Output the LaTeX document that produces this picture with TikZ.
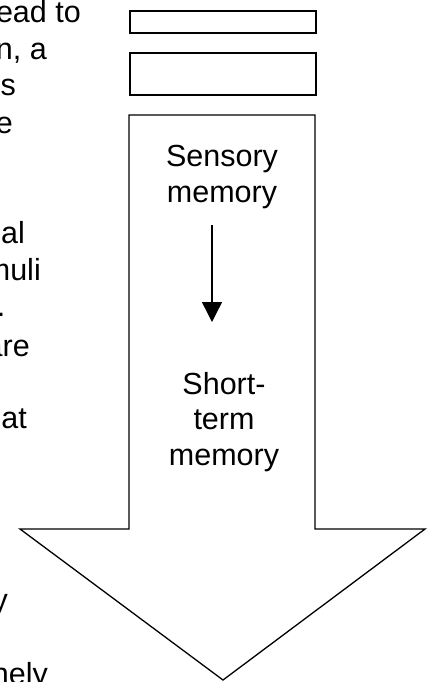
\documentclass[tikz,border=0pt]{standalone}
\usepackage{fontspec}
\setmainfont{Liberation Sans}
\usetikzlibrary{arrows.meta}
\begin{document}
\begin{tikzpicture}[x=1pt,y=-1pt,
  txt/.style={font=\fontsize{30.5}{35.5}\selectfont, inner sep=0pt, align=center},
  frag/.style={font=\fontsize{30.5}{36.6}\selectfont, inner sep=0pt, anchor=base east},
  bar/.style={draw=black, line width=1.8pt, fill=white},
  bigarrow/.style={draw=black, line width=1.3pt, line join=miter, fill=white},
  link/.style={draw=black, line width=1.4pt, -{Triangle[width=20pt,length=20pt]}}]
\useasboundingbox (0,0) rectangle (431,682);
\clip (0,0) rectangle (431,682);
% cut-off paragraph on the left
\node[frag] (l1) at (81,23) {ead to};
\node[frag] (l2) at (47,60) {n, a};
\node[frag] (l3) at (16,96) {s};
\node[frag] (l4) at (13,133) {e};
\node[frag] (l7) at (25,243) {al};
\node[frag] (l8) at (41,280) {muli};
\node[frag] (l9) at (5.5,316) {.};
\node[frag] (l10) at (30,356) {are};
\node[frag] (l12) at (27,428) {at};
\node[frag] (l17) at (8,610) {y};
\node[frag] (l19) at (48,684) {nely};
% stacked bars
\node[bar, minimum width=186pt, minimum height=22pt, anchor=north west] (b1) at (129,10) {};
\node[bar, minimum width=186pt, minimum height=42pt, anchor=north west] (b2) at (129,52) {};
% big arrow
\draw[bigarrow] (129,115) -- (315,115) -- (315,529) -- (425,529) -- (223,680)
  -- (20,529) -- (129,529) -- cycle;
% labels
\node[txt, anchor=base] (sens) at (222,202) {Sensory\\memory};
\node[txt, anchor=base] (stm) at (224,465) {Short-\\term\\memory};
\coordinate (a1) at (212,225);
\coordinate (a2) at (212,322);
\draw[link] (a1) -- (a2);
\end{tikzpicture}
\end{document}
